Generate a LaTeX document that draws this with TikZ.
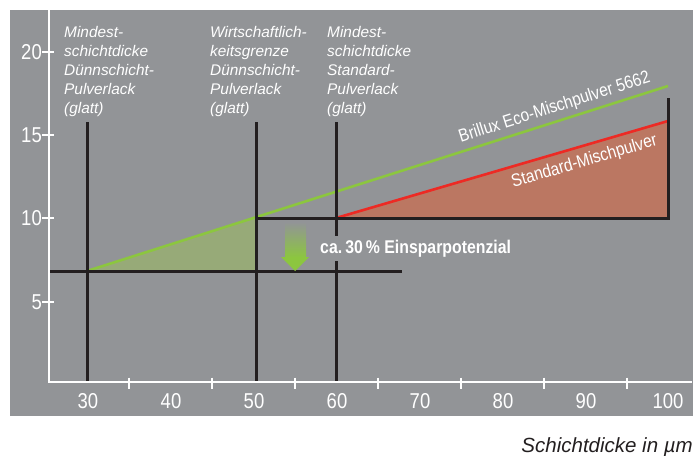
\documentclass[tikz,border=0pt]{standalone}
\usepackage{fontspec}
\setmainfont{Liberation Sans}
\newfontfamily\condf[FakeStretch=0.86]{Liberation Sans}
\definecolor{bg}{HTML}{929497}
\definecolor{lgreen}{HTML}{8CC63F}
\definecolor{lred}{HTML}{ED2A24}
\definecolor{redfill}{HTML}{BB7762}
\definecolor{greenfill}{HTML}{97AA78}
\definecolor{blk}{HTML}{231F20}
\begin{document}
\begin{tikzpicture}[x=1pt,y=-1pt,
  blackline/.style={blk, line width=3pt},
  axisline/.style={white, line width=1.6pt},
  tickline/.style={white, line width=1.2pt},
  toplabel/.style={anchor=north west, align=left, text=white, inner sep=0pt,
    font=\fontsize{15.4}{19}\selectfont\itshape},
  numlabel/.style={text=white, inner sep=0pt, font=\condf\fontsize{21.5}{22}\selectfont},
  slopelabel/.style={text=white, sloped, font=\condf\fontsize{18}{18}\selectfont, inner sep=0pt},
  curveline/.style={line width=2.6pt}
]
\useasboundingbox (0,0) rectangle (700,455);
\fill[bg] (10,10) rectangle (693,416);

% named points
\coordinate (g0) at (87,271);
\coordinate (g50) at (256,217);
\coordinate (g100) at (668,86);
\coordinate (r60) at (336,218);
\coordinate (r100) at (668,121);

% fills
\fill[greenfill] (g0) -- (g50) -- (256,271) -- cycle;
\fill[redfill] (r60) -- (r100) -- (668,218) -- cycle;

% curves
\draw[curveline, lgreen] (g0) -- (g100)
  node[slopelabel, pos=0.812, above=4pt] (eco) {Brillux Eco-Mischpulver 5662};
\draw[curveline, lred] (r60) -- (r100)
  node[slopelabel, pos=0.735, below=6pt] (std) {Standard-Mischpulver};

% black reference lines
\coordinate (v30t) at (87,122);   \coordinate (v30b) at (87,382);
\coordinate (v50t) at (256,122);  \coordinate (v50b) at (256,382);
\coordinate (v60t) at (336,122);  \coordinate (v60b) at (336,382);
\draw[blackline] (v30t) -- (v30b);
\draw[blackline] (v50t) -- (v50b);
\draw[blackline] (v60t) -- (v60b);
\coordinate (hl0) at (49,271); \coordinate (hl1) at (402,271);
\draw[blackline] (hl0) -- (hl1);
\coordinate (hu0) at (254.5,218.5); \coordinate (hu1) at (669.5,218.5);
\draw[blackline] (hu0) -- (hu1);
\coordinate (vr0) at (668,98); \coordinate (vr1) at (668,220);
\draw[blackline] (vr0) -- (vr1);

% savings arrow
\shade[top color=bg, bottom color=lgreen] (285,222) rectangle (306,257.5);
\fill[lgreen] (281,257) -- (309,257) -- (295,271) -- cycle;
\node[fill=bg, text=white, anchor=base west, inner xsep=2pt, inner ysep=4pt,
  font=\condf\bfseries\fontsize{18.4}{18.4}\selectfont] (save) at (318,253)
  {ca.\,30\,\% Einsparpotenzial};

% axes
\coordinate (yax0) at (49,10); \coordinate (origin) at (49,382); \coordinate (xax1) at (692,382);
\draw[axisline] (yax0) -- (origin) -- (xax1);
\foreach \yy/\lab in {52/20,135/15,218/10,302/5}{
  \draw[tickline] (42,\yy) -- (54,\yy);
  \node[numlabel, anchor=east] (yl\lab) at (42,\yy) {\lab};
}
\foreach \xx in {129,212,295,378,461,544,627}{
  \draw[tickline] (\xx,377.5) -- (\xx,389);
}
\foreach \xx/\lab in {88/30,171/40,254/50,337/60,420/70,503/80,586/90,668/100}{
  \node[numlabel, anchor=north] (xl\lab) at (\xx,393) {\lab};
}

% top labels
\node[toplabel] (t1) at (64,26) {Mindest-\\schichtdicke\\Dünnschicht-\\Pulverlack\\(glatt)};
\node[toplabel] (t2) at (210,26) {Wirtschaftlich-\\keitsgrenze\\Dünnschicht-\\Pulverlack\\(glatt)};
\node[toplabel] (t3) at (327,26) {Mindest-\\schichtdicke\\Standard-\\Pulverlack\\(glatt)};

% axis title
\node[anchor=base east, inner sep=0pt, text=blk, font=\fontsize{20.5}{20.5}\selectfont\itshape]
  (xtitle) at (693,452) {Schichtdicke in µm};
\end{tikzpicture}
\end{document}
